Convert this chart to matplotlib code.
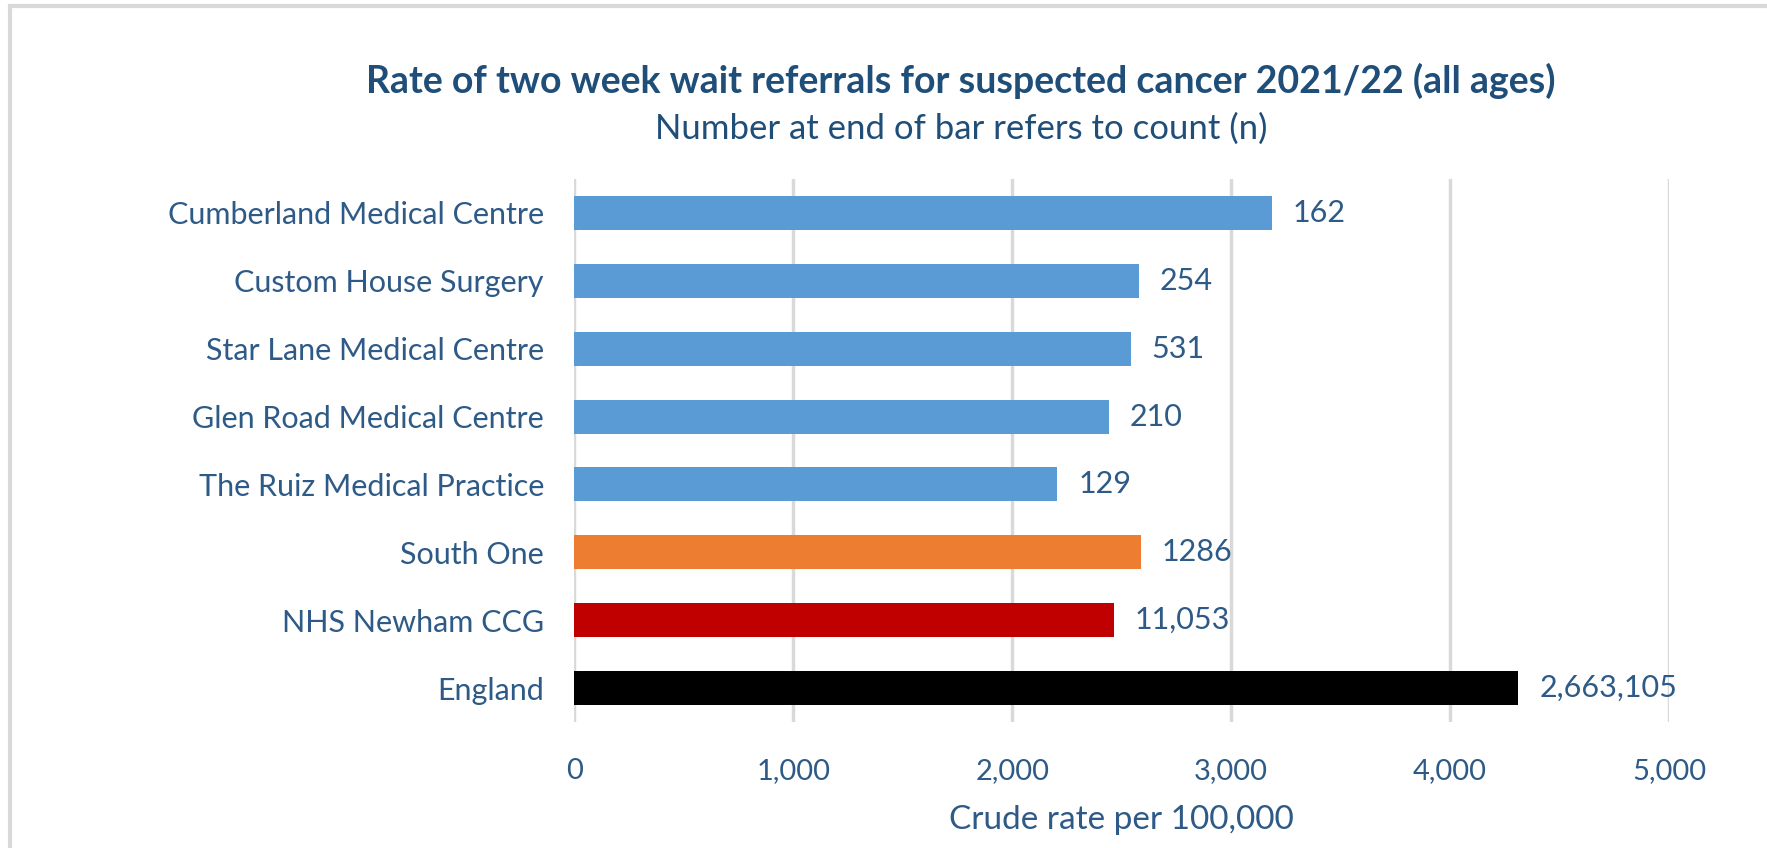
import matplotlib
matplotlib.use("Agg")
import matplotlib.pyplot as plt
from matplotlib.patches import Rectangle

categories = ["Cumberland Medical Centre", "Custom House Surgery", "Star Lane Medical Centre",
              "Glen Road Medical Centre", "The Ruiz Medical Practice", "South One",
              "NHS Newham CCG", "England"]
rates = [3185, 2579, 2541, 2443, 2206, 2588, 2464, 4312]
counts = ["162", "254", "531", "210", "129", "1286", "11,053", "2,663,105"]
colors = ["#5B9BD5"] * 5 + ["#ED7D31", "#C00000", "#000000"]
xticks = [0, 1000, 2000, 3000, 4000, 5000]

plt.rcParams['font.family'] = ['Lato', 'DejaVu Sans']
text_color = "#2E5A87"
title_color = "#1F4E79"

fig = plt.figure(figsize=(17.67, 8.48), dpi=100)
ax = fig.add_axes([0.3251, 0.1486, 0.6194, 0.6403])

y = list(range(len(categories)))
ax.barh(y, rates, height=0.5, color=colors, zorder=3)
for yi, r, c in zip(y, rates, counts):
    ax.text(r + 95, yi, c, va='center', ha='left', fontsize=22, color=text_color)

ax.set_ylim(len(categories) - 0.5, -0.5)
ax.set_xlim(0, 5000)
ax.set_yticks(y)
ax.set_yticklabels(categories, fontsize=22, color=text_color)
ax.set_xticks(xticks)
ax.set_xticklabels([f"{v:,}" for v in xticks], fontsize=21, color=text_color)
ax.tick_params(axis='both', length=0)
ax.tick_params(axis='y', pad=22)
ax.tick_params(axis='x', pad=26)
ax.grid(axis='x', color='#D9D9D9', linewidth=2.5, zorder=0)
for s in ax.spines.values():
    s.set_visible(False)
ax.set_xlabel("Crude rate per 100,000", fontsize=24, color=text_color, labelpad=15)

fig.text(0.544, 0.905, "Rate of two week wait referrals for suspected cancer 2021/22 (all ages)",
         ha='center', va='center', fontsize=27, fontweight='bold', color=title_color)
fig.text(0.544, 0.848, "Number at end of bar refers to count (n)",
         ha='center', va='center', fontsize=25, color=title_color)

# frame
fig.add_artist(Rectangle((9.5 / 1767, -0.1), 1.2, 1 - 6.5 / 848 + 0.1, transform=fig.transFigure,
                         fill=False, edgecolor='#D9D9D9', linewidth=3))

fig.savefig("out.png", dpi=100)
